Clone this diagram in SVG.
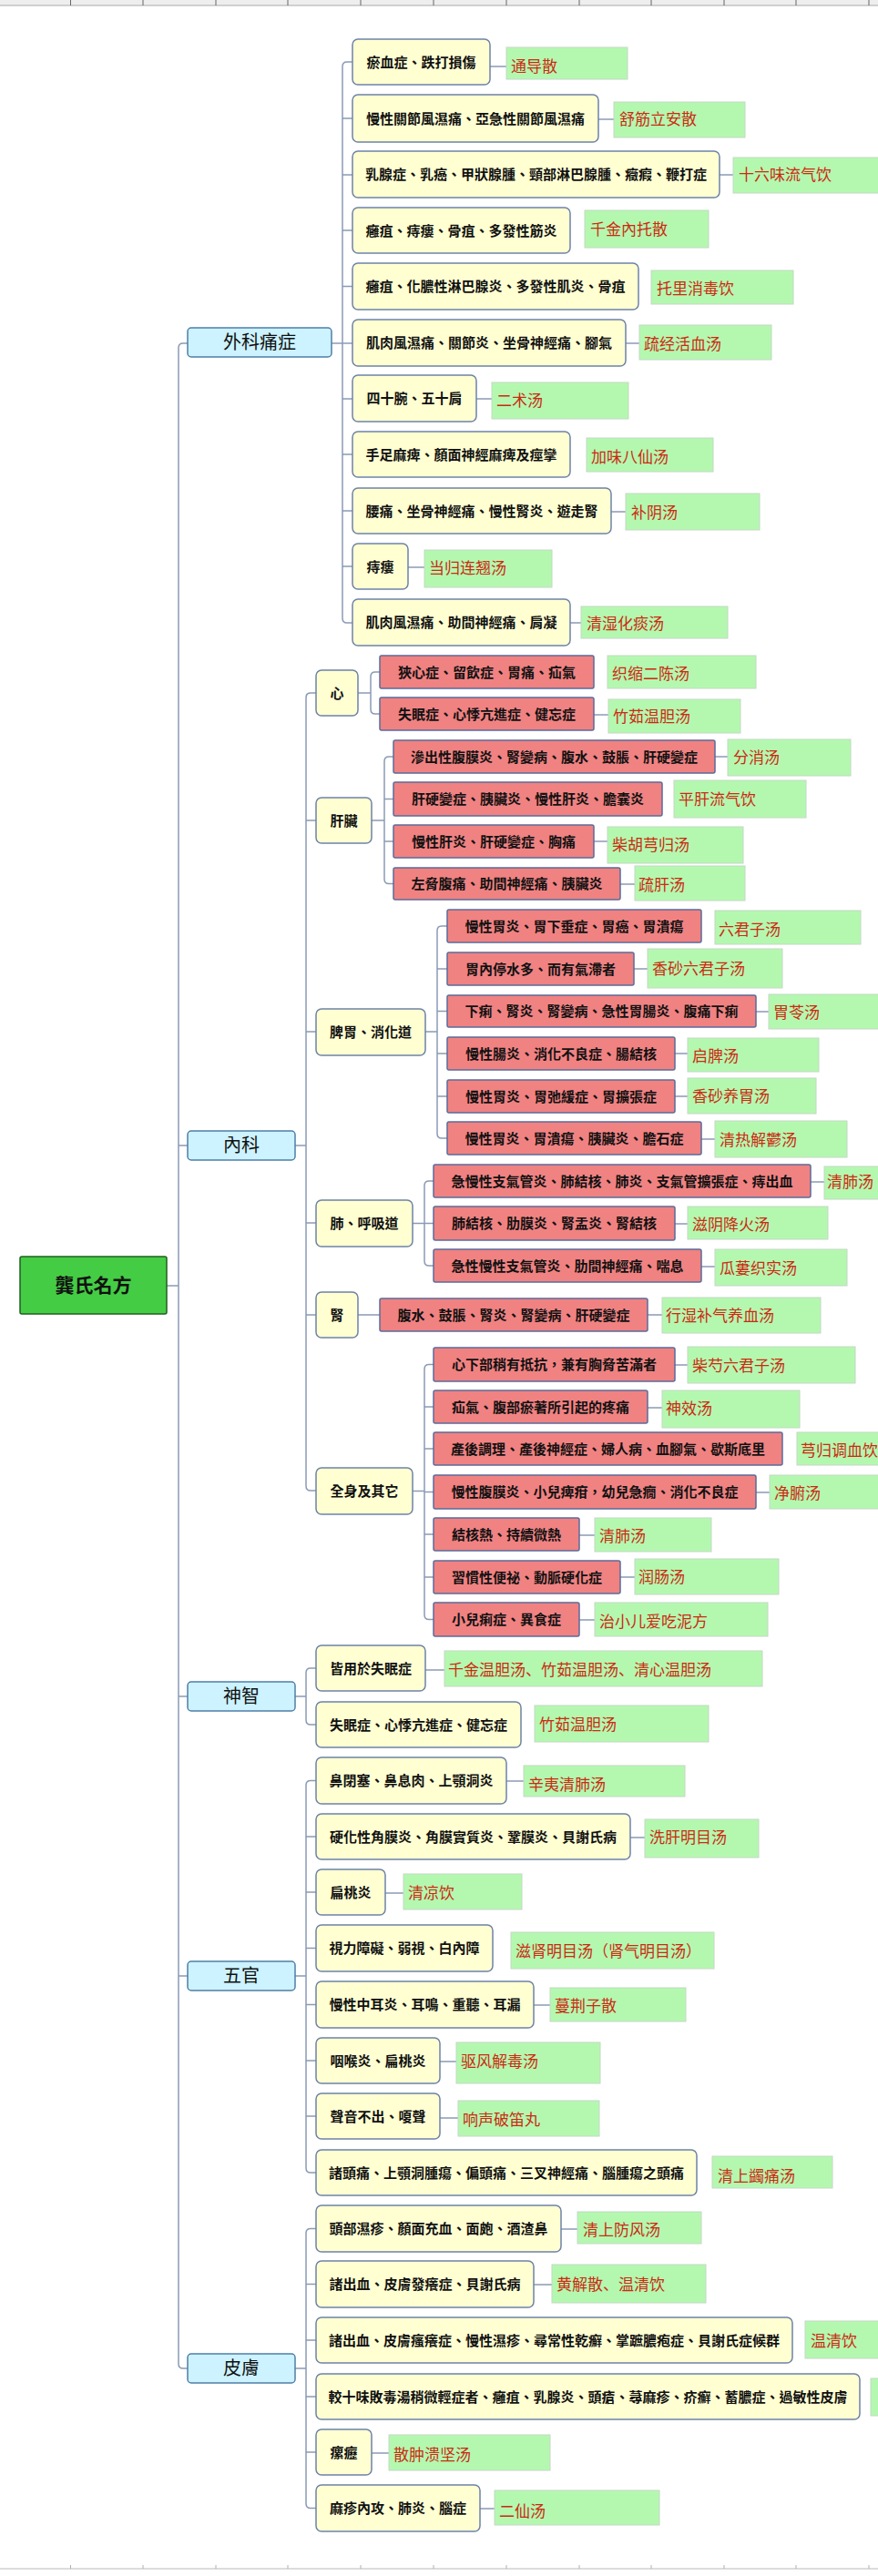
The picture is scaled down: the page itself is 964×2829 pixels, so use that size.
<svg xmlns="http://www.w3.org/2000/svg" width="964" height="2829" viewBox="0 0 964 2829">
<style>
.y{fill:#ffffd2;stroke:#6e83a8;stroke-width:1.5}
.r{fill:#f08282;stroke:#5b6b9b;stroke-width:1.5}
.g{fill:#b4f8b0;stroke:#c4d8c4;stroke-width:1}
.c{fill:#ccf3ff;stroke:#4f7fa8;stroke-width:1.5}
.rt{fill:#44cc44;stroke:#1f5f1f;stroke-width:1.5}
.t{font-family:'Noto Sans CJK TC','Noto Sans CJK SC',sans-serif;font-size:15px;font-weight:600;fill:#111;text-anchor:middle}
.gt{font-family:'Noto Sans CJK SC','Noto Sans CJK TC',sans-serif;font-size:17px;fill:#cc2a10}
.ct{font-family:'Noto Sans CJK TC','Noto Sans CJK SC',sans-serif;font-size:20px;fill:#111;text-anchor:middle}
.ln{fill:none;stroke:#8a9bb5;stroke-width:1.5}
.tick{stroke:#666;stroke-width:1}
</style>
<rect width="964" height="2829" fill="#ffffff"/>
<g id="rulers">
<rect x="0" y="0" width="964" height="6" fill="#eeeeee"/>
<line x1="0" y1="6" x2="964" y2="6" stroke="#aaaaaa" stroke-width="1"/>
<path class="tick" d="M77.5 0V6M157 0V6M237 0V6M316 0V6M396 0V6M476 0V6M556 0V6M636 0V6M715 0V6M795 0V6M874 0V6M954 0V6"/>
<line x1="0" y1="2821" x2="964" y2="2821" stroke="#d0d0d0" stroke-width="1.5"/>
<path stroke="#b0b0b0" stroke-width="1" d="M77.5 2817V2821M157 2817V2821M237 2817V2821M316 2817V2821M396 2817V2821M476 2817V2821M556 2817V2821M636 2817V2821M715 2817V2821M795 2817V2821M874 2817V2821M954 2817V2821"/>
</g>
<g id="connectors" class="ln">
<path d="M183 1412H196"/>
<path d="M206 377H201Q196 377 196 382V2596Q196 2601 201 2601H206M196 1258H206M196 1863H206M196 2170H206"/>
<path d="M364 377H376"/>
<path d="M387 68H381Q376 68 376 73V679Q376 684 381 684H387M376 130H387M376 192H387M376 253H387M376 314.5H387M376 377H387M376 438H387M376 499H387M376 561H387M376 622H387"/>
<path d="M538 73H556M657 131H674M790 192H805M687 377H702M523 438H540M671 562H687M448 623H466M626 684H638"/>
<path d="M324 1258H336"/>
<path d="M347 761H341Q336 761 336 766V1632Q336 1637 341 1637H347M336 901H347M336 1133H347M336 1343H347M336 1444H347"/>
<path d="M393 761H407M417 738H412Q407 738 407 743V779Q407 784 412 784H417"/>
<path d="M652 785H668"/>
<path d="M408 901H422M432 831H427Q422 831 422 836V965.5Q422 970.5 427 970.5H432M422 877.5H432M422 924H432"/>
<path d="M785 831H799M652 924H667M681 971H697"/>
<path d="M467 1133H480M491 1017H485Q480 1017 480 1022V1245Q480 1250 485 1250H491M480 1064H491M480 1110.5H491M480 1157H491M480 1204H491"/>
<path d="M696 1064H711M830 1111H844M741 1157H755M741 1204H755M770 1251H785"/>
<path d="M453 1343.5H466M476 1297H471Q466 1297 466 1302V1385Q466 1390 471 1390H476M466 1343.5H476"/>
<path d="M890 1298H905M741 1344H755M770 1391H785"/>
<path d="M393 1444H417M711 1444H727"/>
<path d="M453 1637.5H466M476 1498.5H471Q466 1498.5 466 1503.5V1773.5Q466 1778.5 471 1778.5H476M466 1545H476M466 1591H476M466 1638.5H476M466 1685H476M466 1732H476"/>
<path d="M741 1499H755M711 1546H727M830 1639H845M636 1686H653M681 1732H697M636 1779H653"/>
<path d="M324 1863H336M347 1832H341Q336 1832 336 1837V1889Q336 1894 341 1894H347"/>
<path d="M467 1834H488"/>
<path d="M324 2170H336M347 1955.5H341Q336 1955.5 336 1960.5V2381Q336 2386 341 2386H347M336 2017H347M336 2078H347M336 2139.5H347M336 2201.5H347M336 2263H347M336 2324H347"/>
<path d="M556 1956H575M692 2018H708M423 2079H443M586 2202H604M483 2264H501M483 2326H503"/>
<path d="M324 2601H336M347 2447.5H341Q336 2447.5 336 2452.5V2749.5Q336 2754.5 341 2754.5H347M336 2508.5H347M336 2570H347M336 2632H347M336 2693H347"/>
<path d="M616 2448H634M586 2509H606M408 2694H427M527 2755H543"/>
</g>
<g id="root"><rect class="rt" x="22" y="1380" width="161" height="63" rx="2"/><text x="102.5" y="1419" font-family="'Noto Sans CJK TC','Noto Sans CJK SC',sans-serif" font-size="21" font-weight="bold" fill="#111" text-anchor="middle">龔氏名方</text></g>
<g id="cat-waike"><rect class="c" x="206" y="360" width="158" height="32" rx="4"/><text class="ct" x="285" y="383">外科痛症</text></g>
<g id="cat-neike"><rect class="c" x="206" y="1242" width="118" height="32" rx="4"/><text class="ct" x="265" y="1265">內科</text></g>
<g id="cat-shenzhi"><rect class="c" x="206" y="1847" width="118" height="32" rx="4"/><text class="ct" x="265" y="1870">神智</text></g>
<g id="cat-wuguan"><rect class="c" x="206" y="2154" width="118" height="32" rx="4"/><text class="ct" x="265" y="2177">五官</text></g>
<g id="cat-pifu"><rect class="c" x="206" y="2585" width="118" height="32" rx="4"/><text class="ct" x="265" y="2608">皮膚</text></g>
<g id="w1"><rect class="y" x="387" y="43" width="151" height="50" rx="6"/><text class="t" x="462.5" y="73.5">瘀血症、跌打損傷</text></g>
<g id="w1g"><rect class="g" x="556" y="52" width="133" height="35"/><text class="gt" x="561" y="79">通导散</text></g>
<g id="w2"><rect class="y" x="387" y="104" width="270" height="52" rx="6"/><text class="t" x="522" y="135.5">慢性關節風濕痛、亞急性關節風濕痛</text></g>
<g id="w2g"><rect class="g" x="674" y="112" width="144" height="39"/><text class="gt" x="680" y="137">舒筋立安散</text></g>
<g id="w3"><rect class="y" x="387" y="166" width="403" height="51" rx="6"/><text class="t" x="588.5" y="197">乳腺症、乳癌、甲狀腺腫、頸部淋巴腺腫、癥瘕、鞭打症</text></g>
<g id="w3g"><rect class="g" x="805" y="173" width="170" height="39"/><text class="gt" x="811" y="198">十六味流气饮</text></g>
<g id="w4"><rect class="y" x="387" y="228" width="239" height="50" rx="6"/><text class="t" x="506.5" y="258.5">癰疽、痔瘻、骨疽、多發性筋炎</text></g>
<g id="w4g"><rect class="g" x="642" y="231" width="136" height="41"/><text class="gt" x="648" y="258">千金內托散</text></g>
<g id="w5"><rect class="y" x="387" y="289" width="314" height="51" rx="6"/><text class="t" x="544" y="320">癰疽、化膿性淋巴腺炎、多發性肌炎、骨疽</text></g>
<g id="w5g"><rect class="g" x="715" y="297" width="156" height="37"/><text class="gt" x="721" y="323">托里消毒饮</text></g>
<g id="w6"><rect class="y" x="387" y="351" width="300" height="51" rx="6"/><text class="t" x="537" y="382">肌肉風濕痛、關節炎、坐骨神經痛、腳氣</text></g>
<g id="w6g"><rect class="g" x="702" y="357" width="145" height="38"/><text class="gt" x="707" y="384">疏经活血汤</text></g>
<g id="w7"><rect class="y" x="387" y="412" width="136" height="51" rx="6"/><text class="t" x="455" y="443">四十腕、五十肩</text></g>
<g id="w7g"><rect class="g" x="540" y="420" width="150" height="40"/><text class="gt" x="545" y="446">二术汤</text></g>
<g id="w8"><rect class="y" x="387" y="474" width="239" height="50" rx="6"/><text class="t" x="506.5" y="504.5">手足麻痺、顏面神經麻痺及痙攣</text></g>
<g id="w8g"><rect class="g" x="644" y="481" width="139" height="37"/><text class="gt" x="649" y="508">加味八仙汤</text></g>
<g id="w9"><rect class="y" x="387" y="536" width="284" height="50" rx="6"/><text class="t" x="529" y="566.5">腰痛、坐骨神經痛、慢性腎炎、遊走腎</text></g>
<g id="w9g"><rect class="g" x="687" y="542" width="147" height="40"/><text class="gt" x="693" y="569">补阴汤</text></g>
<g id="w10"><rect class="y" x="387" y="597" width="61" height="50" rx="6"/><text class="t" x="417.5" y="627.5">痔瘻</text></g>
<g id="w10g"><rect class="g" x="466" y="604" width="140" height="41"/><text class="gt" x="471" y="630">当归连翘汤</text></g>
<g id="w11"><rect class="y" x="387" y="658" width="239" height="51" rx="6"/><text class="t" x="506.5" y="689">肌肉風濕痛、助間神經痛、肩凝</text></g>
<g id="w11g"><rect class="g" x="638" y="666" width="161" height="35"/><text class="gt" x="644" y="691">清湿化痰汤</text></g>
<g id="n-xin"><rect class="y" x="347" y="736" width="46" height="50" rx="6"/><text class="t" x="370" y="766.5">心</text></g>
<g id="n1"><rect class="r" x="417" y="720" width="235" height="36" rx="2"/><text class="t" x="534.5" y="743.5">狹心症、留飲症、胃痛、疝氣</text></g>
<g id="n1g"><rect class="g" x="667" y="720" width="163" height="36"/><text class="gt" x="672" y="746">织缩二陈汤</text></g>
<g id="n2"><rect class="r" x="417" y="766" width="235" height="36" rx="2"/><text class="t" x="534.5" y="789.5">失眠症、心悸亢進症、健忘症</text></g>
<g id="n2g"><rect class="g" x="668" y="768" width="145" height="37"/><text class="gt" x="673" y="793">竹茹温胆汤</text></g>
<g id="n-gan"><rect class="y" x="347" y="876" width="61" height="50" rx="6"/><text class="t" x="377.5" y="906.5">肝臟</text></g>
<g id="n3"><rect class="r" x="432" y="813" width="353" height="36" rx="2"/><text class="t" x="608.5" y="836.5">滲出性腹膜炎、腎變病、腹水、鼓脹、肝硬變症</text></g>
<g id="n3g"><rect class="g" x="799" y="812" width="135" height="40"/><text class="gt" x="805" y="838">分消汤</text></g>
<g id="n4"><rect class="r" x="432" y="859" width="295" height="37" rx="2"/><text class="t" x="579.5" y="883">肝硬變症、胰臟炎、慢性肝炎、膽囊炎</text></g>
<g id="n4g"><rect class="g" x="740" y="857" width="145" height="41"/><text class="gt" x="745" y="884">平肝流气饮</text></g>
<g id="n5"><rect class="r" x="432" y="906" width="220" height="36" rx="2"/><text class="t" x="542" y="929.5">慢性肝炎、肝硬變症、胸痛</text></g>
<g id="n5g"><rect class="g" x="667" y="908" width="149" height="40"/><text class="gt" x="672" y="934">柴胡芎归汤</text></g>
<g id="n6"><rect class="r" x="432" y="953" width="249" height="35" rx="2"/><text class="t" x="556.5" y="976">左脅腹痛、助間神經痛、胰臟炎</text></g>
<g id="n6g"><rect class="g" x="697" y="951" width="121" height="38"/><text class="gt" x="701" y="978">疏肝汤</text></g>
<g id="n-piwei"><rect class="y" x="347" y="1108" width="120" height="51" rx="6"/><text class="t" x="407" y="1139">脾胃、消化道</text></g>
<g id="n7"><rect class="r" x="491" y="999" width="279" height="36" rx="2"/><text class="t" x="630.5" y="1022.5">慢性胃炎、胃下垂症、胃癌、胃潰瘍</text></g>
<g id="n7g"><rect class="g" x="785" y="1000" width="160" height="37"/><text class="gt" x="789" y="1027">六君子汤</text></g>
<g id="n8"><rect class="r" x="491" y="1046" width="205" height="36" rx="2"/><text class="t" x="593.5" y="1069.5">胃內停水多、而有氣滯者</text></g>
<g id="n8g"><rect class="g" x="711" y="1042" width="148" height="43"/><text class="gt" x="716" y="1070">香砂六君子汤</text></g>
<g id="n9"><rect class="r" x="491" y="1093" width="339" height="35" rx="2"/><text class="t" x="660.5" y="1116">下痢、腎炎、腎變病、急性胃腸炎、腹痛下痢</text></g>
<g id="n9g"><rect class="g" x="844" y="1092" width="130" height="38"/><text class="gt" x="849" y="1118">胃苓汤</text></g>
<g id="n10"><rect class="r" x="491" y="1139" width="250" height="36" rx="2"/><text class="t" x="616" y="1162.5">慢性腸炎、消化不良症、腸結核</text></g>
<g id="n10g"><rect class="g" x="755" y="1140" width="144" height="37"/><text class="gt" x="760" y="1166">启脾汤</text></g>
<g id="n11"><rect class="r" x="491" y="1186" width="250" height="36" rx="2"/><text class="t" x="616" y="1209.5">慢性胃炎、胃弛緩症、胃擴張症</text></g>
<g id="n11g"><rect class="g" x="755" y="1184" width="141" height="39"/><text class="gt" x="760" y="1210">香砂养胃汤</text></g>
<g id="n12"><rect class="r" x="491" y="1232" width="279" height="36" rx="2"/><text class="t" x="630.5" y="1255.5">慢性胃炎、胃潰瘍、胰臟炎、膽石症</text></g>
<g id="n12g"><rect class="g" x="785" y="1231" width="145" height="40"/><text class="gt" x="790" y="1258">清热解鬱汤</text></g>
<g id="n-fei"><rect class="y" x="347" y="1318" width="106" height="51" rx="6"/><text class="t" x="400" y="1349">肺、呼吸道</text></g>
<g id="n13"><rect class="r" x="476" y="1279" width="414" height="36" rx="2"/><text class="t" x="683" y="1302.5">急慢性支氣管炎、肺結核、肺炎、支氣管擴張症、痔出血</text></g>
<g id="n13g"><rect class="g" x="905" y="1281" width="70" height="36"/><text class="gt" x="908" y="1304">清肺汤</text></g>
<g id="n14"><rect class="r" x="476" y="1325" width="265" height="37" rx="2"/><text class="t" x="608.5" y="1349">肺結核、肋膜炎、腎盂炎、腎結核</text></g>
<g id="n14g"><rect class="g" x="755" y="1325" width="154" height="36"/><text class="gt" x="760" y="1351">滋阴降火汤</text></g>
<g id="n15"><rect class="r" x="476" y="1372" width="294" height="36" rx="2"/><text class="t" x="623" y="1395.5">急性慢性支氣管炎、肋間神經痛、喘息</text></g>
<g id="n15g"><rect class="g" x="785" y="1372" width="145" height="40"/><text class="gt" x="790" y="1399">瓜蔞织实汤</text></g>
<g id="n-shen"><rect class="y" x="347" y="1419" width="46" height="50" rx="6"/><text class="t" x="370" y="1449.5">腎</text></g>
<g id="n16"><rect class="r" x="417" y="1426" width="294" height="36" rx="2"/><text class="t" x="564" y="1449.5">腹水、鼓脹、腎炎、腎變病、肝硬變症</text></g>
<g id="n16g"><rect class="g" x="727" y="1425" width="174" height="39"/><text class="gt" x="731" y="1451">行湿补气养血汤</text></g>
<g id="n-quanshen"><rect class="y" x="347" y="1612" width="106" height="51" rx="6"/><text class="t" x="400" y="1643">全身及其它</text></g>
<g id="n17"><rect class="r" x="476" y="1480" width="265" height="37" rx="2"/><text class="t" x="608.5" y="1504">心下部稍有抵抗，兼有胸脅苦滿者</text></g>
<g id="n17g"><rect class="g" x="755" y="1479" width="184" height="40"/><text class="gt" x="760" y="1506">柴芍六君子汤</text></g>
<g id="n18"><rect class="r" x="476" y="1527" width="235" height="36" rx="2"/><text class="t" x="593.5" y="1550.5">疝氣、腹部瘀著所引起的疼痛</text></g>
<g id="n18g"><rect class="g" x="727" y="1527" width="151" height="41"/><text class="gt" x="731" y="1553">神效汤</text></g>
<g id="n19"><rect class="r" x="476" y="1573" width="383" height="36" rx="2"/><text class="t" x="667.5" y="1596.5">產後調理、產後神經症、婦人病、血腳氣、歇斯底里</text></g>
<g id="n19g"><rect class="g" x="875" y="1573" width="100" height="36"/><text class="gt" x="879" y="1599">芎归调血饮</text></g>
<g id="n20"><rect class="r" x="476" y="1620" width="354" height="37" rx="2"/><text class="t" x="653" y="1644">慢性腹膜炎、小兒痺疳，幼兒急癇、消化不良症</text></g>
<g id="n20g"><rect class="g" x="845" y="1620" width="130" height="37"/><text class="gt" x="850" y="1646">净腑汤</text></g>
<g id="n21"><rect class="r" x="476" y="1667" width="160" height="36" rx="2"/><text class="t" x="556" y="1690.5">結核熱、持續微熱</text></g>
<g id="n21g"><rect class="g" x="653" y="1667" width="128" height="37"/><text class="gt" x="658" y="1693">清肺汤</text></g>
<g id="n22"><rect class="r" x="476" y="1714" width="205" height="36" rx="2"/><text class="t" x="578.5" y="1737.5">習慣性便祕、動脈硬化症</text></g>
<g id="n22g"><rect class="g" x="697" y="1712" width="158" height="39"/><text class="gt" x="701" y="1738">润肠汤</text></g>
<g id="n23"><rect class="r" x="476" y="1760" width="160" height="37" rx="2"/><text class="t" x="556" y="1784">小兒痢症、異食症</text></g>
<g id="n23g"><rect class="g" x="653" y="1760" width="190" height="37"/><text class="gt" x="658" y="1787">治小儿爱吃泥方</text></g>
<g id="s1"><rect class="y" x="347" y="1807" width="120" height="50" rx="6"/><text class="t" x="407" y="1837.5">皆用於失眠症</text></g>
<g id="s1g"><rect class="g" x="488" y="1813" width="349" height="39"/><text class="gt" x="492" y="1840">千金温胆汤、竹茹温胆汤、清心温胆汤</text></g>
<g id="s2"><rect class="y" x="347" y="1869" width="225" height="50" rx="6"/><text class="t" x="459.5" y="1899.5">失眠症、心悸亢進症、健忘症</text></g>
<g id="s2g"><rect class="g" x="587" y="1873" width="191" height="40"/><text class="gt" x="592" y="1900">竹茹温胆汤</text></g>
<g id="f1"><rect class="y" x="347" y="1930" width="209" height="51" rx="6"/><text class="t" x="451.5" y="1961">鼻閉塞、鼻息肉、上顎洞炎</text></g>
<g id="f1g"><rect class="g" x="575" y="1939" width="177" height="34"/><text class="gt" x="580" y="1966">辛夷清肺汤</text></g>
<g id="f2"><rect class="y" x="347" y="1992" width="345" height="50" rx="6"/><text class="t" x="519.5" y="2022.5">硬化性角膜炎、角膜實質炎、鞏膜炎、貝謝氏病</text></g>
<g id="f2g"><rect class="g" x="708" y="1998" width="125" height="42"/><text class="gt" x="713" y="2024">洗肝明目汤</text></g>
<g id="f3"><rect class="y" x="347" y="2053" width="76" height="50" rx="6"/><text class="t" x="385" y="2083.5">扁桃炎</text></g>
<g id="f3g"><rect class="g" x="443" y="2058" width="130" height="39"/><text class="gt" x="448" y="2085">清凉饮</text></g>
<g id="f4"><rect class="y" x="347" y="2114" width="194" height="51" rx="6"/><text class="t" x="444" y="2145">視力障礙、弱視、白內障</text></g>
<g id="f4g"><rect class="g" x="561" y="2122" width="223" height="40"/><text class="gt" x="566" y="2149">滋肾明目汤（肾气明目汤）</text></g>
<g id="f5"><rect class="y" x="347" y="2176" width="239" height="51" rx="6"/><text class="t" x="466.5" y="2207">慢性中耳炎、耳鳴、重聽、耳漏</text></g>
<g id="f5g"><rect class="g" x="604" y="2183" width="149" height="37"/><text class="gt" x="609" y="2209">蔓荆子散</text></g>
<g id="f6"><rect class="y" x="347" y="2238" width="136" height="50" rx="6"/><text class="t" x="415" y="2268.5">咽喉炎、扁桃炎</text></g>
<g id="f6g"><rect class="g" x="501" y="2243" width="158" height="45"/><text class="gt" x="506" y="2270">驱风解毒汤</text></g>
<g id="f7"><rect class="y" x="347" y="2299" width="136" height="50" rx="6"/><text class="t" x="415" y="2329.5">聲音不出、嗄聲</text></g>
<g id="f7g"><rect class="g" x="503" y="2307" width="155" height="39"/><text class="gt" x="508" y="2334">响声破笛丸</text></g>
<g id="f8"><rect class="y" x="347" y="2361" width="418" height="50" rx="6"/><text class="t" x="556" y="2391.5">諸頭痛、上顎洞腫瘍、偏頭痛、三叉神經痛、腦腫瘍之頭痛</text></g>
<g id="f8g"><rect class="g" x="782" y="2368" width="132" height="35"/><text class="gt" x="788" y="2396">清上蠲痛汤</text></g>
<g id="p1"><rect class="y" x="347" y="2422" width="269" height="51" rx="6"/><text class="t" x="481.5" y="2453">頭部濕疹、顏面充血、面皰、酒渣鼻</text></g>
<g id="p1g"><rect class="g" x="634" y="2429" width="136" height="35"/><text class="gt" x="640" y="2455">清上防风汤</text></g>
<g id="p2"><rect class="y" x="347" y="2483" width="239" height="51" rx="6"/><text class="t" x="466.5" y="2514">諸出血、皮膚發癢症、貝謝氏病</text></g>
<g id="p2g"><rect class="g" x="606" y="2487" width="169" height="42"/><text class="gt" x="611" y="2515">黄解散、温清饮</text></g>
<g id="p3"><rect class="y" x="347" y="2545" width="523" height="50" rx="6"/><text class="t" x="608.5" y="2575.5">諸出血、皮膚瘙癢症、慢性濕疹、尋常性乾癬、掌蹠膿疱症、貝謝氏症候群</text></g>
<g id="p3g"><rect class="g" x="884" y="2549" width="90" height="41"/><text class="gt" x="890" y="2577">温清饮</text></g>
<g id="p4"><rect class="y" x="347" y="2607" width="597" height="50" rx="6"/><text class="t" x="645.5" y="2637.5">較十味敗毒湯稍微輕症者、癰疽、乳腺炎、頭瘡、蕁麻疹、疥癬、蓄膿症、過敏性皮膚</text></g>
<g id="p4g"><rect class="g" x="956" y="2612" width="20" height="41"/></g>
<g id="p5"><rect class="y" x="347" y="2668" width="61" height="50" rx="6"/><text class="t" x="377.5" y="2698.5">瘰癧</text></g>
<g id="p5g"><rect class="g" x="427" y="2674" width="177" height="39"/><text class="gt" x="432" y="2702">散肿溃坚汤</text></g>
<g id="p6"><rect class="y" x="347" y="2729" width="180" height="51" rx="6"/><text class="t" x="437" y="2760">麻疹內攻、肺炎、腦症</text></g>
<g id="p6g"><rect class="g" x="543" y="2735" width="181" height="38"/><text class="gt" x="548" y="2764">二仙汤</text></g>
</svg>
